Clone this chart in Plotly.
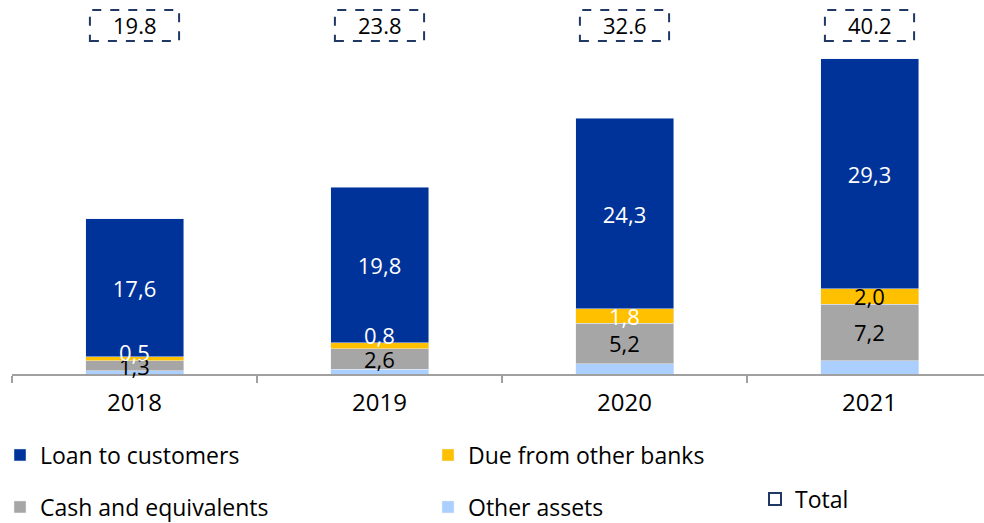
import plotly.graph_objects as go

# Balance sheet structure by year (stacked components, totals shown above)
years = ["2018", "2019", "2020", "2021"]
loans = [17.6, 19.8, 24.3, 29.3]
due_banks = [0.5, 0.8, 1.8, 2.0]
cash = [1.3, 2.6, 5.2, 7.2]
other_assets = [0.4, 0.6, 1.3, 1.7]
totals = [19.8, 23.8, 32.6, 40.2]

FONT = "Open Sans"
NAVY = "#003399"
YELLOW = "#FFC000"
GREY = "#A6A6A6"
LIGHT_BLUE = "#ABCFFF"
BOX = "#1F3864"

due_label_colors = ["white", "white", "white", "black"]
# thin yellow segments get their label lifted (px) so it sits above the slice
due_label_lift = [7, 11, 0, 0]


def fmt(v):
    return f"{v:.1f}".replace(".", ",")


fig = go.Figure()

fig.add_trace(go.Bar(
    x=years, y=other_assets, name="Other assets", marker_color=LIGHT_BLUE,
    legend="legend3", legendrank=2,
))
fig.add_trace(go.Bar(
    x=years, y=cash, name="Cash and equivalents", marker_color=GREY,
    legend="legend3", legendrank=1,
))
fig.add_trace(go.Bar(
    x=years, y=due_banks, name="Due from other banks", marker_color=YELLOW,
    legend="legend", legendrank=2,
))
fig.add_trace(go.Bar(
    x=years, y=loans, name="Loan to customers", marker_color=NAVY,
    text=loans, texttemplate="%{y:.1f}", textposition="inside",
    insidetextanchor="middle", textangle=0, constraintext="none",
    textfont=dict(family=FONT, size=22, color="white"),
    legend="legend", legendrank=1,
))

# Value labels for the thin lower slices, kept on top of every bar
# (category axis: positions given by category index)
for i in range(len(years)):
    base = other_assets[i]
    fig.add_annotation(
        x=i, y=base + cash[i] / 2, xref="x", yref="y",
        text=fmt(cash[i]), showarrow=False,
        xanchor="center", yanchor="middle",
        font=dict(family=FONT, size=22, color="black"),
    )
    base += cash[i]
    fig.add_annotation(
        x=i, y=base + due_banks[i] / 2, xref="x", yref="y",
        text=fmt(due_banks[i]),
        showarrow=False, xanchor="center", yanchor="middle",
        yshift=due_label_lift[i],
        font=dict(family=FONT, size=22, color=due_label_colors[i]),
    )

# Dashed total boxes above each bar
for i, t in enumerate(totals):
    fig.add_shape(
        type="rect", xref="x", yref="paper",
        x0=i - 0.182, x1=i + 0.182, y0=1 - 41 / 374, y1=1 - 10 / 374,
        line=dict(color=BOX, width=2, dash="dash"), fillcolor="white",
        showlegend=(i == 0), name="Total", legend="legend2",
    )
    fig.add_annotation(
        x=i, xref="x", y=1 - 25.5 / 374, yref="paper",
        xanchor="center", yanchor="middle",
        text=f"{t:.1f}", showarrow=False,
        font=dict(family=FONT, size=22, color="black"),
    )

legend_common = dict(
    orientation="h", xref="container", yref="container",
    yanchor="middle", xanchor="left", bgcolor="rgba(0,0,0,0)",
    traceorder="normal",
    font=dict(family=FONT, size=23, color="black"),
    entrywidth=383, entrywidthmode="pixels", itemwidth=30,
)

fig.update_layout(
    width=984, height=523,
    margin=dict(l=12, r=0, t=0, b=149, autoexpand=False),
    paper_bgcolor="white", plot_bgcolor="white",
    barmode="stack", bargap=0.6,
    separators=", ",
    showlegend=True,
    legend=dict(x=-0.003, y=1 - 455 / 523, **legend_common),
    legend3=dict(x=-0.003, y=1 - 507 / 523, **legend_common),
    legend2=dict(
        x=755 / 984, y=1 - 499 / 523, xref="container", yref="container",
        yanchor="middle", xanchor="left", bgcolor="rgba(0,0,0,0)",
        font=dict(family=FONT, size=23, color="black"), itemwidth=30,
    ),
    font=dict(family=FONT, color="black"),
    xaxis=dict(
        type="category", range=[-0.5, -0.5 + 972 / 245],
        showline=True, linecolor="#A0A0A0", linewidth=1.5,
        ticks="outside", tickson="boundaries", ticklen=7, tickcolor="#A0A0A0",
        tickwidth=1.5, tickfont=dict(family=FONT, size=24, color="black"),
        showgrid=False, ticklabelstandoff=6,
    ),
    yaxis=dict(
        range=[0, 374 / 7.84], visible=False, showgrid=False, zeroline=False,
    ),
)

fig.write_html("out.html")
